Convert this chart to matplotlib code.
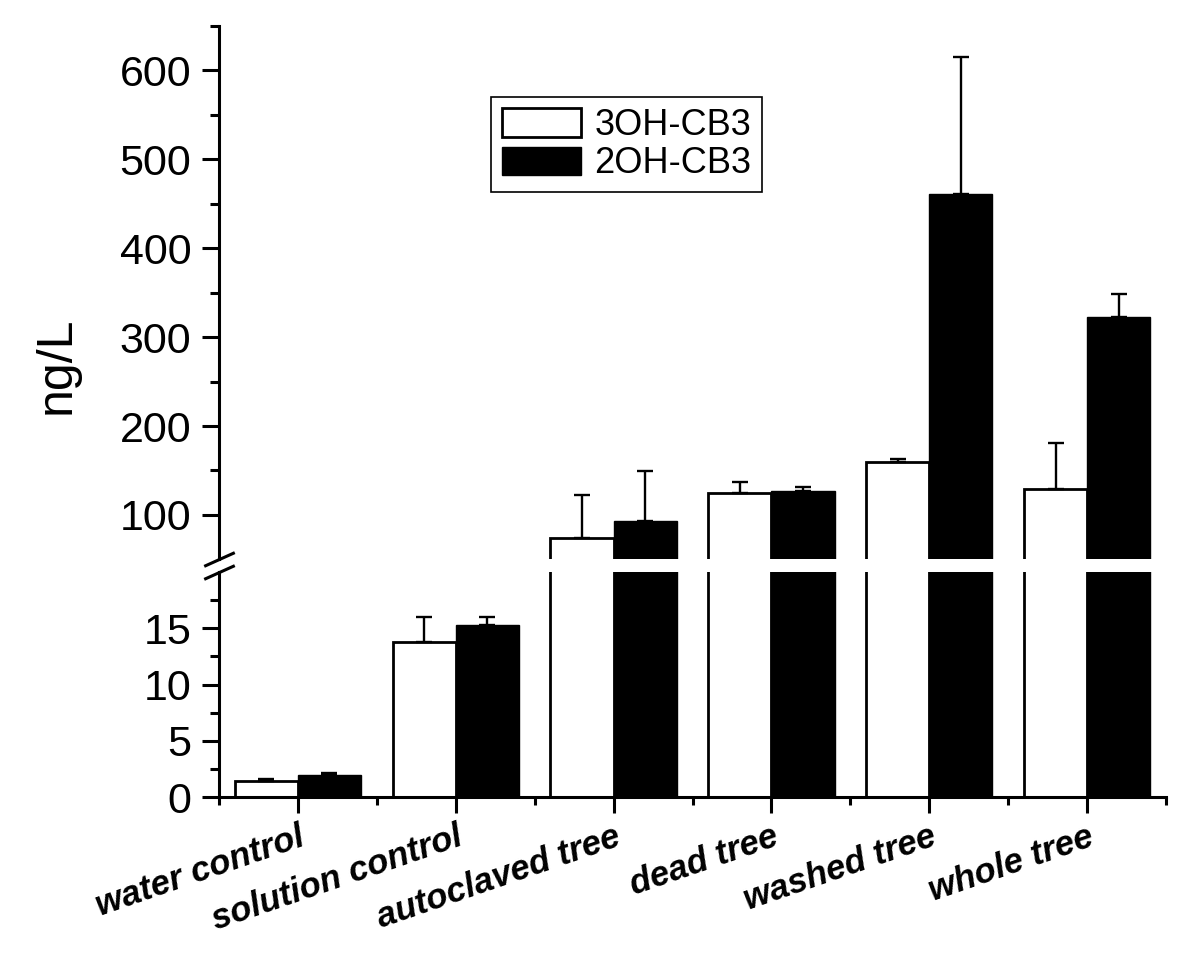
import numpy as np
import matplotlib
matplotlib.use('Agg')
import matplotlib.pyplot as plt
from matplotlib import font_manager

plt.rcParams['font.family'] = ['Liberation Sans', 'DejaVu Sans']

categories = ['water control', 'solution control', 'autoclaved tree',
              'dead tree', 'washed tree', 'whole tree']
oh3_mean = [1.4, 13.8, 74, 125, 160, 129]
oh3_err = [0.2, 2.2, 49, 12, 3, 52]
oh2_mean = [1.95, 15.3, 93, 127, 461, 323]
oh2_err = [0.2, 0.7, 56, 5, 154, 25]

x = np.arange(1, len(categories) + 1)
w = 0.4
lw = 2.2

# category labels look like a narrow bold italic face
names = {f.name for f in font_manager.fontManager.ttflist}
if 'Liberation Sans Narrow' in names:
    lab_font, lab_size = 'Liberation Sans Narrow', 28
else:
    lab_font, lab_size = 'Liberation Sans', 25

fig = plt.figure(figsize=(12, 9.69), dpi=100)
ax_top = fig.add_axes([0.1825, 0.4227, 0.7892, 0.5505])
ax_bot = fig.add_axes([0.1825, 0.1775, 0.7892, 0.2322])

for ax in (ax_top, ax_bot):
    ax.bar(x - w / 2, oh3_mean, w, color='white', edgecolor='black', linewidth=2, label='3OH-CB3', zorder=2)
    ax.bar(x + w / 2, oh2_mean, w, color='black', edgecolor='black', linewidth=1, label='2OH-CB3', zorder=2)
    ax.errorbar(x - w / 2, oh3_mean, yerr=[np.zeros(len(x)), oh3_err], fmt='none',
                ecolor='black', elinewidth=1.7, capsize=6, capthick=1.7, zorder=3)
    ax.errorbar(x + w / 2, oh2_mean, yerr=[np.zeros(len(x)), oh2_err], fmt='none',
                ecolor='black', elinewidth=1.7, capsize=6, capthick=1.7, zorder=3)
    ax.set_xlim(0.5, 6.5)
    ax.spines['top'].set_visible(False)
    ax.spines['right'].set_visible(False)
    ax.spines['left'].set_linewidth(lw)
    ax.spines['bottom'].set_linewidth(lw)
    ax.tick_params(axis='y', which='major', direction='out', length=12, width=lw, labelsize=31, pad=8)
    ax.tick_params(axis='y', which='minor', direction='out', length=6.5, width=lw)

# upper part
ax_top.set_ylim(50, 650)
ax_top.set_yticks(np.arange(100, 601, 100))
ax_top.set_yticks(np.arange(150, 651, 100), minor=True)
ax_top.spines['bottom'].set_visible(False)
ax_top.tick_params(axis='x', which='both', bottom=False, labelbottom=False)

# lower part
ax_bot.set_ylim(0, 20)
ax_bot.set_yticks([0, 5, 10, 15])
ax_bot.set_yticks([2.5, 7.5, 12.5, 17.5], minor=True)
ax_bot.set_xticks(x)
ax_bot.set_xticks(np.arange(0.5, 6.6, 1), minor=True)
ax_bot.tick_params(axis='x', which='major', direction='out', length=11.5, width=lw, pad=5)
ax_bot.tick_params(axis='x', which='minor', direction='out', length=6, width=lw)
ax_bot.set_xticklabels(categories, rotation=19, ha='right', va='top', rotation_mode='anchor',
                       fontsize=lab_size, fontweight='bold', fontstyle='italic', family=lab_font)

# break marks on the y axis
mk = dict(marker=[(-1, -0.45), (1, 0.45)], markersize=22, markeredgewidth=2.2,
          color='black', linestyle='none', clip_on=False)
ax_top.plot([0], [0], transform=ax_top.transAxes, **mk)
ax_bot.plot([0], [1], transform=ax_bot.transAxes, **mk)

fig.text(57 / 1200, 1 - 365 / 969, 'ng/L', rotation=90, fontsize=36, ha='center', va='center')

leg = ax_top.legend(loc='upper left', bbox_to_anchor=(491 / 1200, 1 - 97 / 969),
                    bbox_transform=fig.transFigure, borderaxespad=0, fontsize=26,
                    fancybox=False, framealpha=1, edgecolor='black',
                    handlelength=2.2, handleheight=0.85, handletextpad=0.36,
                    labelspacing=0.1, borderpad=0.3)
leg.get_frame().set_linewidth(1.2)

fig.savefig('out.png', dpi=100)
